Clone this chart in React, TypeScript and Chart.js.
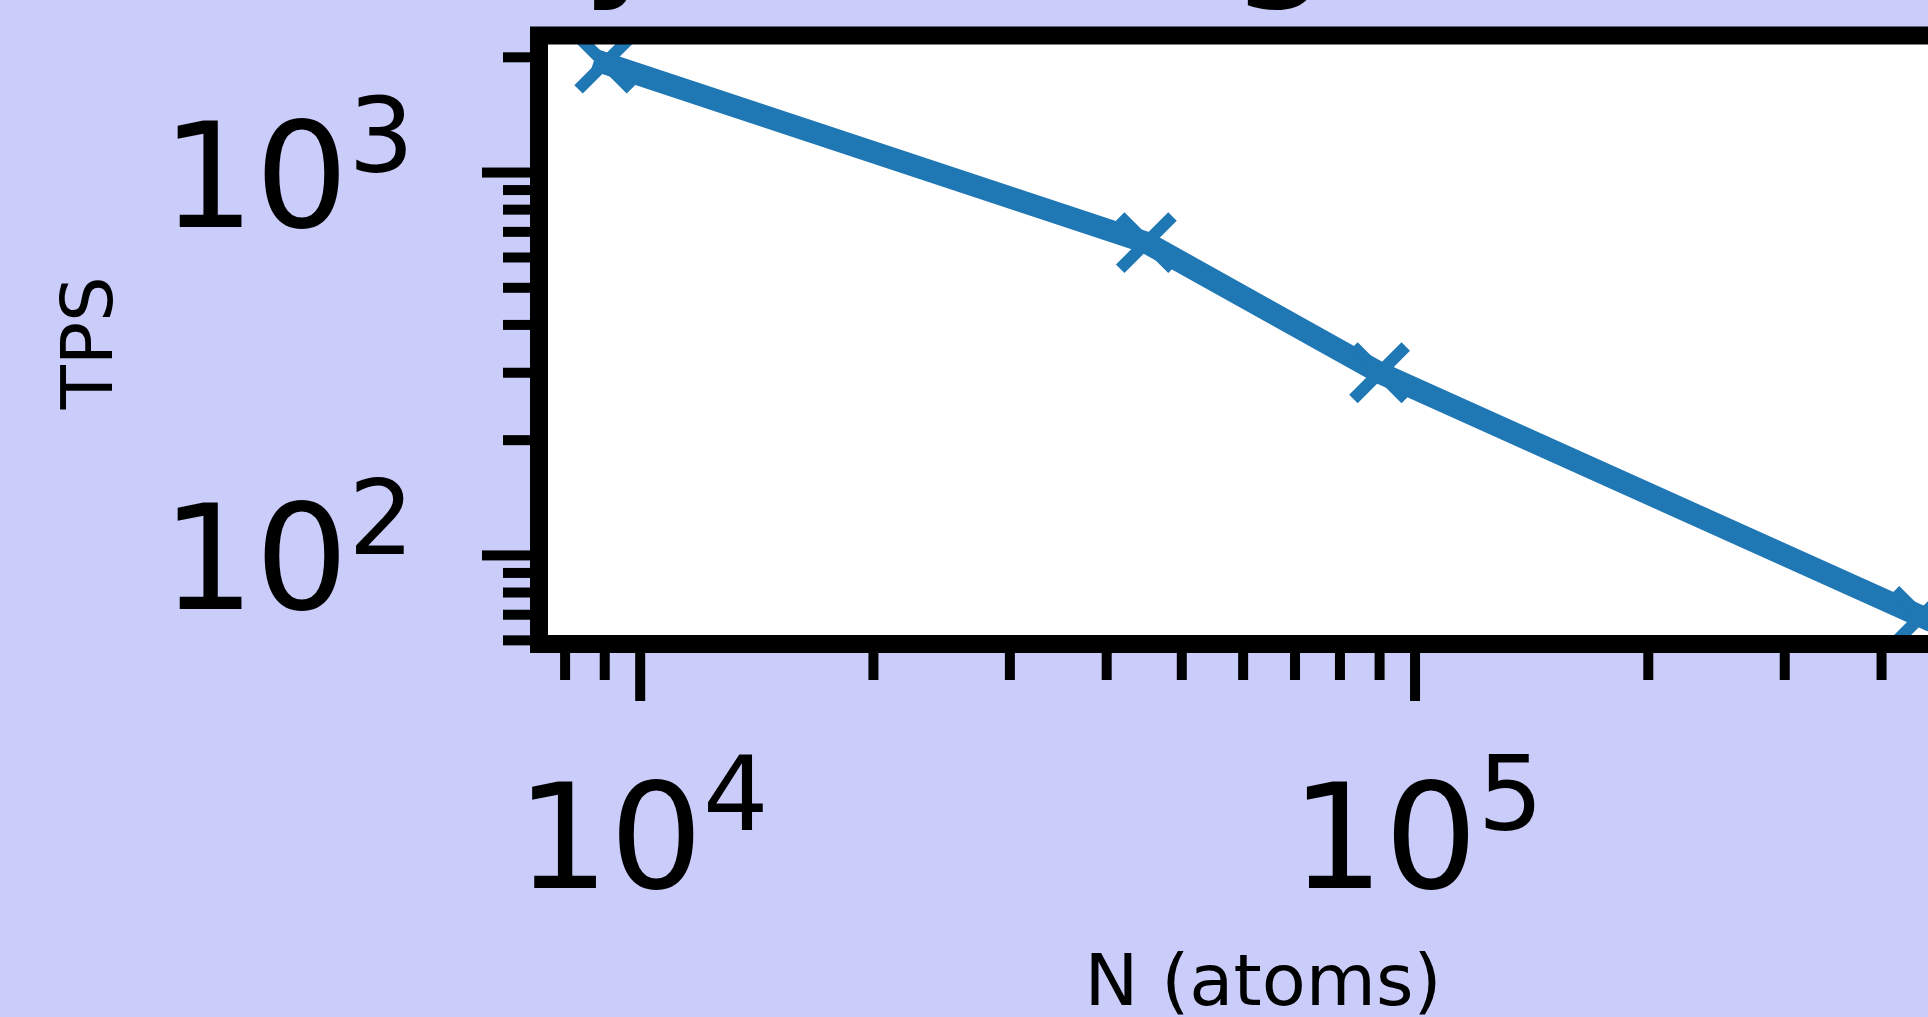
import React, { useEffect, useRef } from "react";
import { Chart, registerables } from "chart.js";

Chart.register(...registerables);

// ---- data ----
const atoms = [9000, 45000, 90000, 450000];
const tps = [1930, 656, 300, 69.3];

// ---- axes ----
const xLimits = [7403, 547200];
const yLimits = [58.7, 2280];
const xMajorExponents = [4, 5];
const yMajorExponents = [2, 3];
const minorMultipliers = [2, 3, 4, 5, 6, 7, 8, 9];

// ---- text ----
const titleText = "Efficiency Scaling";
const xTitle = "N (atoms)";
const yTitle = "TPS";

// ---- styling ----
const W = 2100;
const H = 1017;
const PAD = { left: 539, top: 35.5, right: W - 1987, bottom: H - 644 };
const BG = "#cacdf9";
const LINE = "#1f77b4";
const FONT = "'DejaVu Sans', 'Liberation Sans', sans-serif";

function minorValues(lim: number[]): number[] {
  const out: number[] = [];
  const d0 = Math.floor(Math.log10(lim[0]));
  const d1 = Math.ceil(Math.log10(lim[1]));
  for (let d = d0; d <= d1; d++) {
    for (const m of minorMultipliers) {
      const v = m * Math.pow(10, d);
      if (v >= lim[0] && v <= lim[1]) out.push(v);
    }
  }
  return out;
}

function drawPow(ctx: CanvasRenderingContext2D, exp: number, anchorX: number, baseY: number, supY: number, align: "right" | "center") {
  ctx.textAlign = "left";
  ctx.textBaseline = "alphabetic";
  ctx.font = `147px ${FONT}`;
  const wb = ctx.measureText("10").width;
  ctx.font = `103px ${FONT}`;
  const ws = ctx.measureText(String(exp)).width;
  const total = wb + ws;
  const x0 = align === "right" ? anchorX - total : anchorX - total / 2;
  ctx.font = `147px ${FONT}`;
  ctx.fillText("10", x0, baseY);
  ctx.font = `103px ${FONT}`;
  ctx.fillText(String(exp), x0 + wb, supY);
}

const decor = {
  id: "decor",
  beforeDraw(chart: any) {
    const ctx = chart.ctx as CanvasRenderingContext2D;
    const a = chart.chartArea;
    ctx.save();
    ctx.fillStyle = BG;
    ctx.fillRect(0, 0, chart.width, chart.height);
    ctx.fillStyle = "#ffffff";
    ctx.fillRect(a.left, a.top, a.right - a.left, a.bottom - a.top);
    ctx.restore();
  },
  afterDraw(chart: any) {
    const ctx = chart.ctx as CanvasRenderingContext2D;
    const a = chart.chartArea;
    const xs = chart.scales.x;
    const ys = chart.scales.y;
    ctx.save();
    ctx.fillStyle = "#000";
    const tw = 10;
    const majorLen = 57;
    const minorLen = 36;
    // y ticks
    for (const v of minorValues(yLimits)) {
      const py = ys.getPixelForValue(v);
      ctx.fillRect(a.left - minorLen, py - tw / 2, minorLen, tw);
    }
    for (const e of yMajorExponents) {
      const py = ys.getPixelForValue(Math.pow(10, e));
      ctx.fillRect(a.left - majorLen, py - tw / 2, majorLen, tw);
      drawPow(ctx, e, 414, py + 54, py - 1, "right");
    }
    // x ticks
    for (const v of minorValues(xLimits)) {
      const px = xs.getPixelForValue(v);
      ctx.fillRect(px - tw / 2, a.bottom, tw, minorLen);
    }
    for (const e of xMajorExponents) {
      const px = xs.getPixelForValue(Math.pow(10, e));
      ctx.fillRect(px - tw / 2, a.bottom, tw, majorLen);
      drawPow(ctx, e, px + 2, a.bottom + 244, a.bottom + 186, "center");
    }
    // spines
    ctx.strokeStyle = "#000";
    ctx.lineWidth = 18;
    ctx.lineJoin = "miter";
    ctx.strokeRect(a.left, a.top, a.right - a.left, a.bottom - a.top);

    // axis titles
    ctx.fillStyle = "#000";
    ctx.font = `72px ${FONT}`;
    ctx.textAlign = "center";
    ctx.textBaseline = "alphabetic";
    ctx.fillText(xTitle, (a.left + a.right) / 2, 1005);
    ctx.save();
    ctx.translate(112, (a.top + a.bottom) / 2 + 3);
    ctx.rotate(-Math.PI / 2);
    ctx.fillText(yTitle, 0, 0);
    ctx.restore();

    // title (mostly cut off at the top)
    ctx.font = `166px ${FONT}`;
    ctx.textAlign = "left";
    const before = titleText.slice(0, titleText.indexOf("y"));
    const wBefore = ctx.measureText(before).width;
    ctx.fillText(titleText, 581 - wBefore, -25);
    ctx.restore();
  },
};

export default function App() {
  const ref = useRef<HTMLCanvasElement | null>(null);
  useEffect(() => {
    if (!ref.current) return;
    const chart = new Chart(ref.current, {
      type: "line",
      data: {
        datasets: [
          {
            label: "TPS",
            data: atoms.map((x, i) => ({ x, y: tps[i] })),
            borderColor: LINE,
            backgroundColor: LINE,
            borderWidth: 22,
            borderCapStyle: "square",
            borderJoinStyle: "round",
            pointStyle: "crossRot",
            pointRadius: 37,
            pointBorderWidth: 12,
            pointBorderColor: LINE,
            pointBackgroundColor: LINE,
            tension: 0,
            fill: false,
          },
        ],
      },
      options: {
        animation: false,
        responsive: false,
        devicePixelRatio: 1,
        layout: { padding: PAD, autoPadding: false },
        plugins: { legend: { display: false }, title: { display: false }, tooltip: { enabled: false } },
        scales: {
          x: { type: "logarithmic", display: false, min: xLimits[0], max: xLimits[1] },
          y: { type: "logarithmic", display: false, min: yLimits[0], max: yLimits[1] },
        },
      },
      plugins: [decor],
    });
    return () => chart.destroy();
  }, []);
  return (
    <div style={{ position: "fixed", left: 0, top: 0, width: W, height: H, overflow: "hidden", background: BG }}>
      <canvas ref={ref} width={W} height={H} style={{ display: "block", width: W, height: H }} />
    </div>
  );
}
